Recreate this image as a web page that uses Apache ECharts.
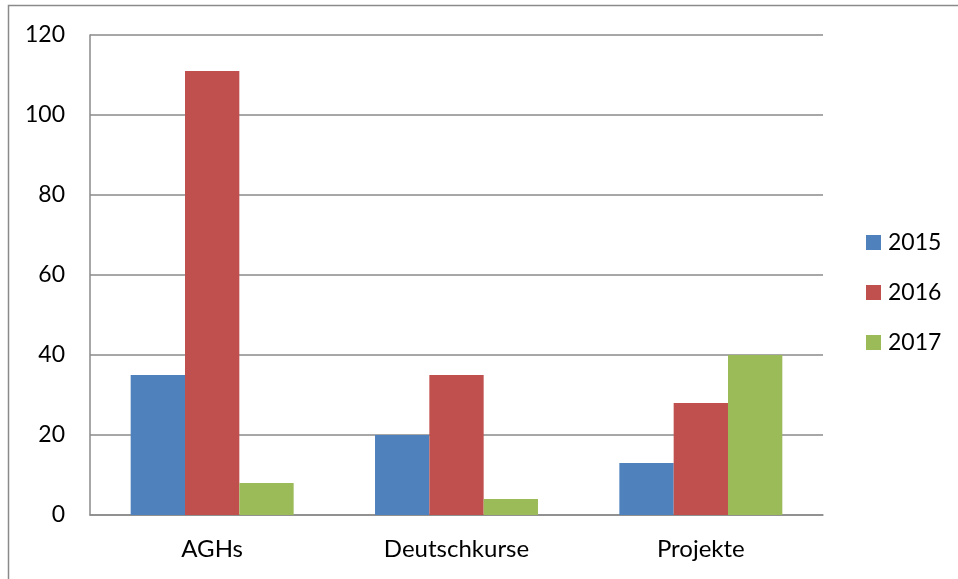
<!DOCTYPE html>
<html>
<head>
<meta charset="utf-8">
<script src="https://cdn.jsdelivr.net/npm/echarts@6/dist/echarts.min.js"></script>
<style>
  html, body { margin: 0; padding: 0; background: #fff; }
  #chart { width: 958px; height: 579px; }
</style>
</head>
<body>
<div id="chart"></div>
<script>
// Categories and yearly counts
const categories = ['AGHs', 'Deutschkurse', 'Projekte'];
const years = ['2015', '2016', '2017'];
const values2015 = [35, 20, 13];
const values2016 = [111, 35, 28];
const values2017 = [8, 4, 40];
const yTicks = { min: 0, max: 120, interval: 20 };

const colors = ['#4F81BD', '#C0504D', '#9BBB59'];
const fontFamily = 'Lato, "Open Sans", sans-serif';
const gridColor = '#8a8a8a';

const chart = echarts.init(document.getElementById('chart'), null, { renderer: 'canvas' });

chart.setOption({
  animation: false,
  backgroundColor: '#ffffff',
  color: colors,
  graphic: [{
    type: 'rect',
    shape: { x: 8.5, y: 5.5, width: 960, height: 600 },
    style: { fill: 'none', stroke: gridColor, lineWidth: 1.5 },
    silent: true
  }],
  grid: { left: 90, top: 35, right: 135, bottom: 64, containLabel: false },
  legend: {
    orient: 'vertical',
    left: 866,
    top: 231,
    padding: 0,
    itemWidth: 15,
    itemHeight: 15,
    itemGap: 27,
    icon: 'rect',
    textStyle: { fontFamily, fontSize: 23, lineHeight: 23, color: '#000', padding: [0, 0, 0, 2] },
    data: years
  },
  xAxis: {
    type: 'category',
    data: categories,
    axisLine: { show: true, lineStyle: { color: gridColor, width: 1.5 } },
    axisTick: { show: false },
    axisLabel: { fontFamily, fontSize: 24, color: '#000', margin: 22 }
  },
  yAxis: {
    type: 'value',
    min: yTicks.min,
    max: yTicks.max,
    interval: yTicks.interval,
    axisLine: { show: true, lineStyle: { color: gridColor, width: 1.5 } },
    axisTick: { show: false },
    splitLine: { show: true, lineStyle: { color: gridColor, width: 1.5 } },
    axisLabel: { fontFamily, fontSize: 23, color: '#000', margin: 25 }
  },
  series: [
    { name: years[0], type: 'bar', data: values2015, barGap: '0%', barCategoryGap: '33.3%' },
    { name: years[1], type: 'bar', data: values2016, barGap: '0%', barCategoryGap: '33.3%' },
    { name: years[2], type: 'bar', data: values2017, barGap: '0%', barCategoryGap: '33.3%' }
  ]
});
</script>
</body>
</html>
